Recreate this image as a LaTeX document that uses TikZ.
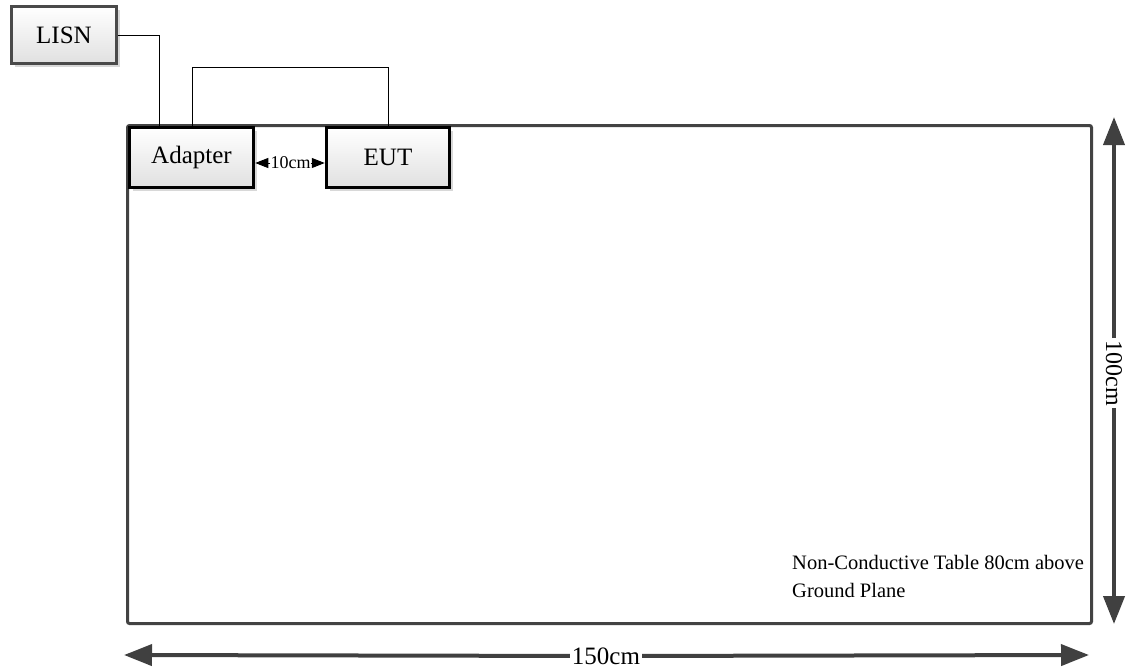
\documentclass[tikz,border=0pt]{standalone}
\usepackage{fontspec}
\setmainfont{Liberation Serif}
\usetikzlibrary{arrows.meta,shadows,calc}
\definecolor{boxedge}{HTML}{4A4A4A}
\definecolor{dimcol}{HTML}{404040}
\definecolor{tablecol}{HTML}{434343}
\begin{document}
\begin{tikzpicture}[x=1pt,y=-1pt,
  devbox/.style={draw=black, line width=3.5pt, top color=white, bottom color=black!12,
    drop shadow={shadow xshift=3pt,shadow yshift=-3pt,fill=black!30,opacity=0.5},
    font=\fontsize{25}{25}\selectfont, inner sep=0pt},
  dimline/.style={draw=dimcol, line width=4pt, -{Triangle[length=28pt,width=21pt]}},
  dimlabel/.style={font=\fontsize{25}{25}\selectfont, inner sep=2pt},
  wire/.style={draw=black, line width=0.9pt}]
\useasboundingbox (0,0) rectangle (1126,670);
% table
\node[draw=tablecol, line width=3pt, rounded corners=2pt, minimum width=964pt, minimum height=498pt, inner sep=0pt] (table) at (609.5,374.5) {};
% boxes
\node[devbox, draw=boxedge, line width=3pt, minimum width=105pt, minimum height=57pt] (lisn) at (64,35) {LISN};
\node[devbox, minimum width=124pt, minimum height=60pt] (adapter) at (191.5,157.5) {Adapter};
\node[devbox, minimum width=123pt, minimum height=60pt] (eut) at (388,157.5) {EUT};
% wires
\coordinate (lw) at (159,126);
\coordinate (a1) at (192,126);
\coordinate (e1) at (388,126);
\coordinate (top) at (0,67);
\draw[wire] (lisn.east) -| (lw);
\draw[wire] (a1) -- (a1 |- top) -| (e1);
% 10cm
\node[font=\fontsize{18}{18}\selectfont, inner sep=0pt] (t10) at (290.5,163) {10cm};
\draw[line width=1pt, -{Triangle[length=13pt,width=10pt]}] (t10.west) -- (t10.west -| adapter.east);
\draw[line width=1pt, -{Triangle[length=13pt,width=10pt]}] (t10.east) -- (t10.east -| eut.west);
% table text
\node[anchor=north west, align=left, inner sep=0pt, font=\fontsize{20.5}{28}\selectfont] (ttext) at (792,555) {Non-Conductive Table 80cm above\\Ground Plane};
% 150cm
\coordinate (hl) at (124,655);
\coordinate (hr) at (1089,655);
\node[dimlabel] (w150) at (606,656) {150cm};
\draw[dimline] (w150) -- (hl);
\draw[dimline] (w150) -- (hr);
% 100cm
\coordinate (vt) at (1114,117);
\coordinate (vb) at (1114,624);
\node[dimlabel, rotate=-90, inner ysep=0pt, inner xsep=2pt, font=\fontsize{24}{24}\selectfont] (h100) at (1114,373) {100cm};
\draw[dimline] (h100) -- (vt);
\draw[dimline] (h100) -- (vb);
\end{tikzpicture}
\end{document}
